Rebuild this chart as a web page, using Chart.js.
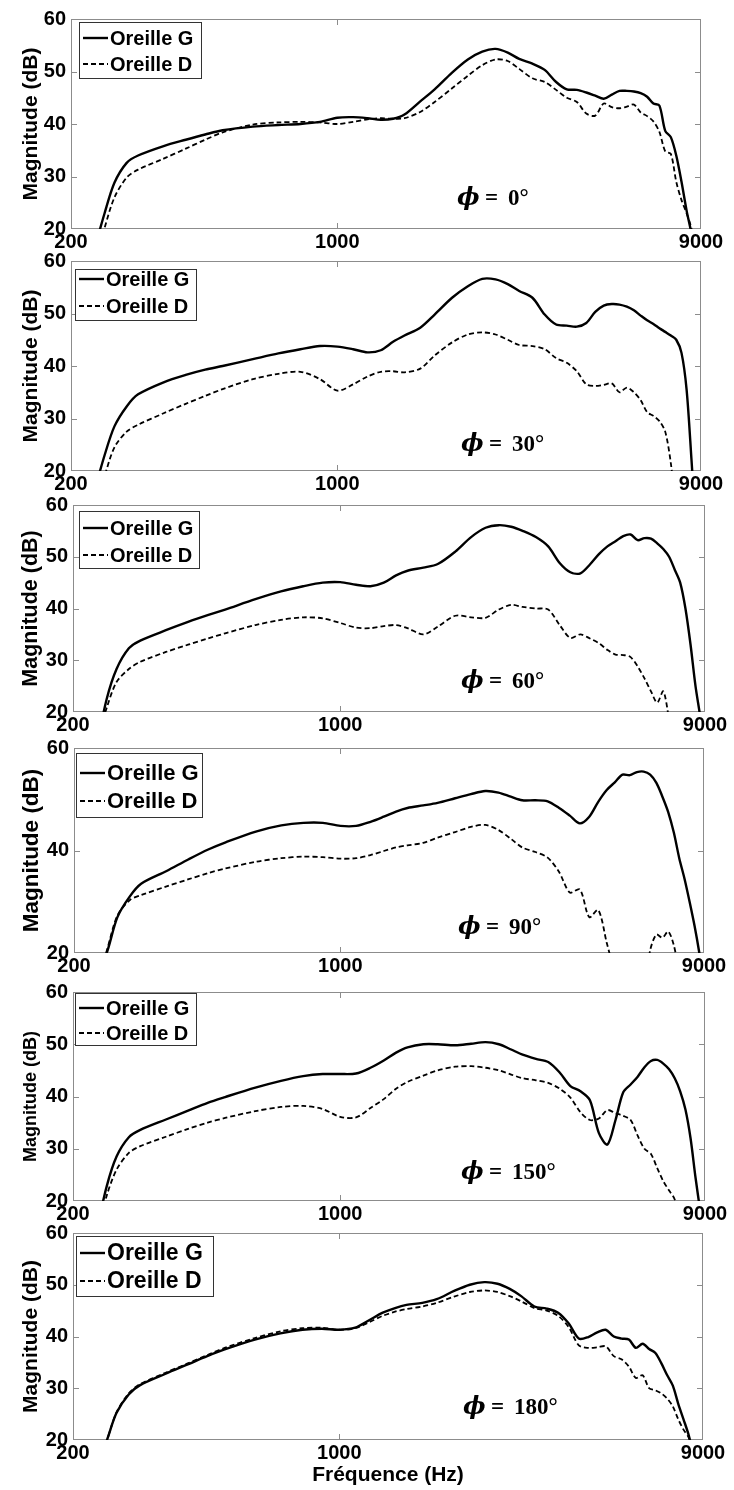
<!DOCTYPE html>
<html lang="fr">
<head>
<meta charset="utf-8">
<title>Magnitude - Oreille G / Oreille D</title>
<script src="https://cdn.jsdelivr.net/npm/chart.js@4.4.1/dist/chart.umd.min.js"></script>
<style>
    html, body { margin: 0; padding: 0; background: #fff; }
    #figure { position: relative; width: 734px; height: 1490px; overflow: hidden; }
    #figure canvas { position: absolute; left: 0; }
</style>
</head>
<body>
<div id="figure"></div>
<script>
// axe des fréquences commun (Hz)
const frequences = [230, 245, 260, 280, 300, 350, 400, 450, 500, 600, 700, 800, 900, 1000,
    1100, 1200, 1300, 1400, 1500, 1650, 1800, 2000, 2200, 2400, 2600, 2800, 3000, 3250, 3500,
    3750, 4000, 4250, 4500, 4750, 5000, 5250, 5500, 5750, 6000, 6250, 6500, 6750, 7000, 7250,
    7500, 7750, 8000, 8250, 8500, 8750, 9000];

const graduationsX = [200, 1000, 9000];
const graduationsY = [20, 30, 40, 50, 60];
const graduationsY90 = [20, 40, 60];

// magnitudes (dB)
const gauche0 = [16, 23, 28.8, 32.6, 34.0, 35.8, 37.0, 38.0, 38.8, 39.5, 39.8, 40.0, 40.4, 41.2,
    41.3, 41.1, 40.8, 41.0, 41.8, 44.3, 46.6, 49.8, 52.3, 53.8, 54.3, 53.6, 52.4, 51.5, 50.3,
    48.0, 46.6, 46.5, 46.0, 45.4, 44.8, 45.6, 46.3, 46.3, 46.2, 45.9, 45.2, 43.9, 43.5, 38.7,
    37.5, 34.0, 29.0, 23.5, 19.0, 12, 6];
const droite0 = [13, 20.2, 26, 29.8, 31.3, 33.4, 35.3, 37.0, 38.4, 39.9, 40.3, 40.4, 40.3, 40.0,
    40.4, 40.9, 41.1, 41.0, 41.1, 42.3, 44.2, 46.8, 49.2, 51.2, 52.3, 52.0, 50.5, 48.7, 48.0,
    46.5, 45.0, 44.2, 42.0, 41.6, 43.9, 43.2, 43.0, 43.3, 43.7, 42.2, 41.5, 40.5, 38.5, 34.8,
    34.3, 29.0, 25.5, 23.0, 20.0, 14, 8];

const gauche30 = [16, 23, 28.5, 32.3, 34.6, 36.9, 38.3, 39.3, 40.0, 41.3, 42.4, 43.2, 43.8, 43.7,
    43.2, 42.6, 43.0, 44.6, 45.8, 47.3, 49.8, 53.0, 55.2, 56.6, 56.5, 55.6, 54.3, 53.0, 49.8,
    47.9, 47.7, 47.5, 48.2, 50.3, 51.5, 51.8, 51.7, 51.3, 50.6, 49.6, 48.7, 48.0, 47.2, 46.5,
    45.8, 45.0, 42.5, 35.5, 22.0, 8, 0];
const droite30 = [12, 19.0, 24.5, 27.5, 28.8, 31.0, 32.8, 34.3, 35.6, 37.5, 38.5, 38.9, 37.5, 35.3,
    36.5, 38.0, 38.9, 39.0, 38.8, 39.5, 42.0, 44.5, 46.0, 46.4, 46.0, 45.0, 44.0, 43.8, 43.2,
    41.5, 40.6, 39.0, 36.5, 36.2, 36.4, 36.7, 35.0, 35.9, 35.0, 33.5, 31.2, 30.5, 29.5, 27.5,
    21.5, 12, 5, 0, 0, 0, 0];

const gauche60 = [13, 22.5, 28.3, 32.3, 33.8, 35.8, 37.4, 38.7, 39.8, 41.8, 43.3, 44.3, 45.0, 45.1,
    44.6, 44.3, 45.0, 46.4, 47.3, 47.9, 48.6, 51.0, 53.8, 55.6, 56.1, 55.8, 55.0, 53.8, 52.0,
    48.8, 47.0, 46.8, 48.5, 50.5, 52.0, 53.0, 54.0, 54.3, 53.2, 53.6, 53.5, 52.6, 51.5, 50.0,
    47.5, 45.0, 40.0, 33.0, 25.0, 19.0, 12];
const droite60 = [14, 20.8, 25.8, 28.3, 29.7, 31.6, 33.0, 34.2, 35.2, 36.8, 37.8, 38.3, 38.1, 37.2,
    36.3, 36.2, 36.6, 36.8, 36.2, 35.0, 36.5, 38.6, 38.3, 38.2, 39.8, 40.7, 40.3, 40.0, 39.8,
    36.8, 34.3, 35.0, 34.2, 33.3, 32.0, 31.1, 31.0, 30.6, 28.8, 26.5, 24.0, 21.8, 24.0, 18.5,
    12, 6, 0, 0, 0, 0, 0];

const gauche90 = [15, 20.5, 27, 31, 33.5, 36.0, 38.3, 40.2, 41.6, 43.7, 44.9, 45.4, 45.4, 44.8,
    44.8, 45.6, 46.6, 47.6, 48.3, 48.8, 49.3, 50.2, 51.0, 51.6, 51.3, 50.5, 49.8, 49.8, 49.6,
    48.3, 46.8, 45.3, 46.6, 49.5, 51.8, 53.3, 54.8, 54.7, 55.3, 55.4, 54.8, 53.2, 50.5, 47.5,
    43.5, 38.5, 34.5, 30.0, 25.3, 20.0, 14];
const droite90 = [14, 21, 27.3, 30.3, 31.3, 33.0, 34.4, 35.6, 36.5, 37.8, 38.5, 38.8, 38.7, 38.4,
    38.5, 39.1, 39.9, 40.6, 41.0, 41.5, 42.5, 43.6, 44.6, 45.0, 44.0, 42.3, 40.6, 39.7, 38.6,
    35.8, 31.8, 32.4, 27.0, 28.4, 22.0, 16, 10, 8, 8, 12, 20.5, 23.6, 23.0, 24.2,
    21.5, 16, 10, 4, 0, 0, 0];

const gauche150 = [14, 22.8, 28.5, 32.2, 33.6, 35.6, 37.3, 38.8, 39.9, 41.7, 43.0, 43.9, 44.3, 44.3,
    44.4, 45.5, 46.9, 48.4, 49.4, 50.0, 50.0, 49.8, 50.1, 50.4, 50.0, 49.0, 48.0, 47.2, 46.6,
    44.6, 42.0, 41.0, 39.3, 33.0, 30.8, 35.5, 40.8, 42.3, 43.8, 45.6, 46.8, 47.0, 46.3, 45.2,
    43.5, 41.0, 37.5, 32.0, 24.5, 18.0, 12];
const droite150 = [13, 21.0, 26.0, 29.2, 30.5, 32.3, 33.8, 35.0, 35.9, 37.2, 38.0, 38.2, 37.6, 36.1,
    36.0, 37.8, 39.5, 41.5, 42.8, 44.0, 45.0, 45.7, 45.8, 45.5, 45.0, 44.2, 43.5, 43.1, 42.6,
    41.5, 39.8, 37.0, 35.5, 35.8, 37.4, 36.8, 36.3, 35.5, 32.5, 30.0, 29.0, 26.3, 23.8, 22.0,
    20.3, 15, 8, 2, 0, 0, 0];

const gauche180 = [15, 19.8, 25.2, 28.8, 30.6, 32.8, 34.6, 36.2, 37.5, 39.4, 40.6, 41.3, 41.5, 41.3,
    41.7, 43.2, 44.6, 45.5, 46.1, 46.5, 47.2, 48.8, 50.0, 50.5, 50.2, 49.2, 47.8, 45.8, 45.4,
    44.6, 42.5, 39.6, 39.9, 40.8, 41.3, 40.0, 39.6, 39.4, 37.8, 38.6, 37.6, 36.8, 34.8, 32.5,
    30.5, 27.0, 24.0, 21.0, 17, 12, 8];
const droite180 = [15, 19.8, 25.3, 29.0, 30.8, 33.0, 34.8, 36.4, 37.8, 39.7, 41.0, 41.6, 41.7, 41.3,
    41.6, 42.8, 44.0, 44.8, 45.3, 45.8, 46.5, 47.7, 48.6, 48.9, 48.6, 47.8, 46.8, 45.5, 45.0,
    44.0, 41.8, 38.3, 37.8, 37.9, 38.1, 36.2, 35.6, 34.2, 32.0, 32.5, 30.0, 29.6, 29.0, 28.0,
    26.5, 24.0, 22.0, 20.5, 17, 12, 8];

// mise en page des six panneaux (pixels de la page)
const panneaux = [
    { angle: "0°", gauche: gauche0, droite: droite0, grad: graduationsY,
      cadre: [71, 701, 19, 229], titreY: 21,
      legende: { dx: 8, dy: 3, w: 122, h: 56, rangs: [19, 45], taille: 20 },
      etiquette: { x: 457, dy: 180 } },
    { angle: "30°", gauche: gauche30, droite: droite30, grad: graduationsY,
      cadre: [71, 701, 261, 471], titreY: 21,
      legende: { dx: 4, dy: 8, w: 121, h: 51, rangs: [18, 45], taille: 20 },
      etiquette: { x: 461, dy: 184 } },
    { angle: "60°", gauche: gauche60, droite: droite60, grad: graduationsY,
      cadre: [73, 705, 505, 712], titreY: 21.5,
      legende: { dx: 6, dy: 6, w: 120, h: 57, rangs: [23, 50], taille: 20 },
      etiquette: { x: 461, dy: 177 } },
    { angle: "90°", gauche: gauche90, droite: droite90, grad: graduationsY90,
      cadre: [74, 704, 748, 953], titreY: 22.5,
      legende: { dx: 2, dy: 5, w: 126, h: 64, rangs: [25, 53], taille: 22 },
      etiquette: { x: 458, dy: 180 } },
    { angle: "150°", gauche: gauche150, droite: droite150, grad: graduationsY,
      cadre: [73, 705, 992, 1201], titreY: 18,
      legende: { dx: 2, dy: 1, w: 121, h: 52, rangs: [16, 41], taille: 20 },
      etiquette: { x: 461, dy: 181 } },
    { angle: "180°", gauche: gauche180, droite: droite180, grad: graduationsY,
      cadre: [73, 703, 1233, 1440], titreY: 21,
      legende: { dx: 3, dy: 3, w: 137, h: 60, rangs: [20, 48], taille: 23 },
      etiquette: { x: 463, dy: 175 }, titreX: "Fréquence (Hz)" },
];

const POLICE = '"Liberation Sans", Arial, Helvetica, sans-serif';

document.addEventListener("DOMContentLoaded", () => {
    panneaux.forEach(dessinerPanneau);
});

const cadre = {
    id: "cadre",
    beforeDatasetsDraw(chart) {
        const { ctx, chartArea: a, scales } = chart;
        ctx.save();
        ctx.strokeStyle = "#8c8c8c";
        ctx.lineWidth = 1;
        ctx.strokeRect(a.left + 0.5, a.top + 0.5, a.right - a.left - 1, a.bottom - a.top - 1);

        scales.y.ticks.forEach((t) => {
            if (t.value <= scales.y.min || t.value >= scales.y.max) {
                return;
            }
            const y = Math.round(scales.y.getPixelForValue(t.value)) + 0.5;
            ctx.beginPath();
            ctx.moveTo(a.left, y);
            ctx.lineTo(a.left + 6, y);
            ctx.moveTo(a.right, y);
            ctx.lineTo(a.right - 6, y);
            ctx.stroke();
        });

        scales.x.ticks.forEach((t) => {
            if (t.value <= scales.x.min || t.value >= scales.x.max) {
                return;
            }
            const x = Math.round(scales.x.getPixelForValue(t.value)) + 0.5;
            ctx.beginPath();
            ctx.moveTo(x, a.bottom);
            ctx.lineTo(x, a.bottom - 6);
            ctx.moveTo(x, a.top);
            ctx.lineTo(x, a.top + 6);
            ctx.stroke();
        });
        ctx.restore();
    },
};

const legendeBoite = {
    id: "legendeBoite",
    afterDatasetsDraw(chart, args, o) {
        const { ctx, chartArea: a } = chart;
        const x = Math.round(a.left + o.dx);
        const y = Math.round(a.top + o.dy);
        ctx.save();
        ctx.fillStyle = "#fff";
        ctx.fillRect(x, y, o.w, o.h);
        ctx.strokeStyle = "#333";
        ctx.lineWidth = 1;
        ctx.strokeRect(x + 0.5, y + 0.5, o.w, o.h);
        ctx.font = "bold " + o.taille + "px " + POLICE;
        ctx.textBaseline = "middle";
        ctx.textAlign = "left";
        chart.data.datasets.forEach((ds, i) => {
            const yy = a.top + o.rangs[i];
            ctx.strokeStyle = "#000";
            ctx.lineWidth = ds.borderWidth;
            ctx.setLineDash(ds.borderDash || []);
            ctx.beginPath();
            ctx.moveTo(x + 4, yy);
            ctx.lineTo(x + 29, yy);
            ctx.stroke();
            ctx.setLineDash([]);
            ctx.fillStyle = "#000";
            ctx.fillText(ds.label, x + 31, yy + 1);
        });
        ctx.restore();
    },
};

const etiquetteAngle = {
    id: "etiquetteAngle",
    afterDatasetsDraw(chart, args, o) {
        const { ctx, chartArea: a } = chart;
        const y = a.top + o.dy;
        ctx.save();
        ctx.fillStyle = "#000";
        ctx.textBaseline = "middle";
        ctx.textAlign = "left";
        ctx.font = 'italic bold 24px "DejaVu Serif", serif';
        ctx.fillText("\u03D5", o.x, y);
        ctx.font = 'bold 23px "Liberation Serif", "DejaVu Serif", serif';
        ctx.fillText("=", o.x + 28, y);
        ctx.fillText(o.texte, o.x + 51, y);
        ctx.restore();
    },
};

function dessinerPanneau(p) {
    const [gaucheX, droiteX, haut, bas] = p.cadre;
    const margeHaut = 20;
    const hauteurAxeX = p.titreX ? 50 : 30;
    const hauteur = (bas - haut) + margeHaut + hauteurAxeX;

    const canvas = document.createElement("canvas");
    canvas.width = 734;
    canvas.height = hauteur;
    canvas.style.top = (haut - margeHaut) + "px";
    document.getElementById("figure").appendChild(canvas);

    const points = (valeurs) => frequences.map((f, i) => ({ x: f, y: valeurs[i] }));
    const policeTicks = { family: POLICE, size: 20, weight: "bold" };

    new Chart(canvas, {
        type: "line",
        data: {
            datasets: [
                {
                    label: "Oreille G",
                    data: points(p.gauche),
                    borderColor: "#000",
                    borderWidth: 2.4,
                    pointRadius: 0,
                    tension: 0.3,
                    clip: 0,
                },
                {
                    label: "Oreille D",
                    data: points(p.droite),
                    borderColor: "#000",
                    borderWidth: 1.8,
                    borderDash: [5, 3],
                    pointRadius: 0,
                    tension: 0.3,
                    clip: 0,
                },
            ],
        },
        options: {
            responsive: false,
            animation: false,
            devicePixelRatio: 1,
            events: [],
            layout: {
                padding: { top: margeHaut, right: 734 - droiteX, bottom: 0, left: 0 },
            },
            plugins: {
                legend: { display: false },
                tooltip: { enabled: false },
                legendeBoite: p.legende,
                etiquetteAngle: { x: p.etiquette.x, dy: p.etiquette.dy, texte: p.angle },
            },
            scales: {
                x: {
                    type: "logarithmic",
                    position: "bottom",
                    min: 200,
                    max: 9000,
                    grid: { display: false, drawTicks: false },
                    border: { display: false },
                    afterBuildTicks: (s) => {
                        s.ticks = graduationsX.map((v) => ({ value: v }));
                    },
                    afterFit: (s) => {
                        s.height = hauteurAxeX;
                    },
                    ticks: {
                        autoSkip: false,
                        maxRotation: 0,
                        padding: 1,
                        color: "#000",
                        font: policeTicks,
                        callback: (v) => String(v),
                    },
                    title: {
                        display: !!p.titreX,
                        text: p.titreX || "",
                        color: "#000",
                        font: { family: POLICE, size: 21, weight: "bold", lineHeight: 1 },
                        padding: { top: 0, bottom: 4.5 },
                    },
                },
                y: {
                    min: 20,
                    max: 60,
                    grid: { display: false, drawTicks: false },
                    border: { display: false },
                    afterBuildTicks: (s) => {
                        s.ticks = p.grad.map((v) => ({ value: v }));
                    },
                    afterFit: (s) => {
                        s.width = gaucheX;
                    },
                    ticks: {
                        padding: 5,
                        color: "#000",
                        font: policeTicks,
                        callback: (v) => String(v),
                    },
                    title: {
                        display: true,
                        text: "Magnitude (dB)",
                        color: "#000",
                        font: { family: POLICE, size: p.titreY, weight: "bold", lineHeight: 1 },
                        padding: { top: 31.5 - p.titreY / 2, bottom: 0 },
                    },
                },
            },
        },
        plugins: [cadre, legendeBoite, etiquetteAngle],
    });
}
</script>
</body>
</html>
